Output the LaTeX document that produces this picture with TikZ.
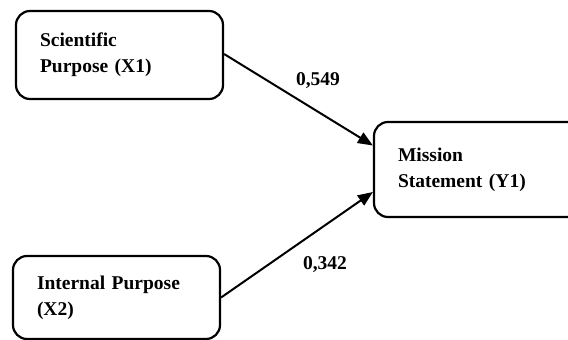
\documentclass[tikz,border=0pt]{standalone}
\usepackage{fontspec}
\setmainfont{Liberation Serif}
\usetikzlibrary{arrows.meta,calc}
\begin{document}
\begin{tikzpicture}[x=1pt,y=-1pt,
  boxnode/.style={draw, line width=2.2pt, rounded corners=14pt, align=left,
    inner xsep=24pt, inner ysep=0pt, font=\fontsize{19.5}{26}\selectfont\bfseries},
  wlabel/.style={font=\fontsize{19.5}{24}\selectfont\bfseries, inner sep=0pt},
  conn/.style={line width=2pt, -{Triangle[length=15pt,width=12pt]}}]
\useasboundingbox (0,0) rectangle (568,340);
\clip (0,0) rectangle (568,340);
\fill[white] (0,0) rectangle (568,340);
\node[boxnode, text width=159pt, minimum height=88pt] (x1) at (119.5,55) {Scientific\\Purpose (X1)};
\node[boxnode, text width=159pt, minimum height=83pt] (x2) at (116.5,297.5) {Internal Purpose\\(X2)};
\node[boxnode, text width=168pt, minimum height=95pt] (y1) at (482,169.5) {Mission\\Statement (Y1)};
\draw[conn] ($(x1.east)+(0,-1)$) -- ($(y1.west)+(0,-24)$);
\draw[conn] (x2.east) -- ($(y1.west)+(0,22.5)$);
\node[wlabel] (l1) at (318,81) {0,549};
\node[wlabel] (l2) at (325,265) {0,342};
\end{tikzpicture}
\end{document}
